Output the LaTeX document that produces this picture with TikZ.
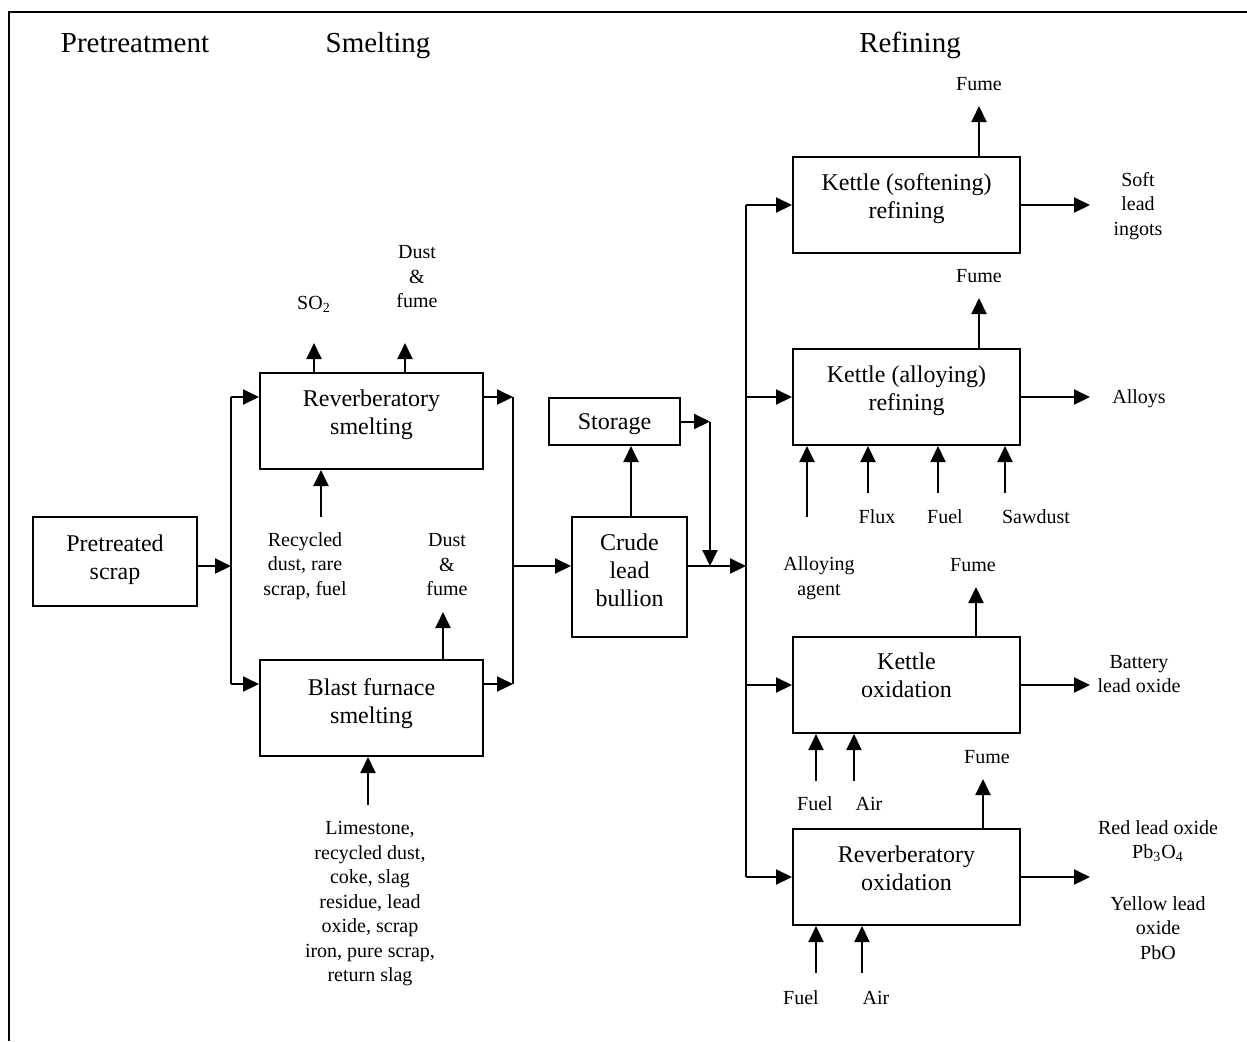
\documentclass[tikz,border=0pt]{standalone}
\usepackage{fontspec}
\setmainfont{Liberation Serif}
\usetikzlibrary{
  positioning,
  arrows.meta
}

\begin{document}
\begin{tikzpicture}[
  x=0.5pt, y=-0.5pt,
  line width=1pt,
  node distance=47pt,
  box/.style={
    draw,
    font=\fontsize{12}{14}\selectfont,
    align=center,
    inner sep=0pt,
    text depth=8.5pt,
    minimum width=113.5pt,
    minimum height=48pt
  },
  arr/.style={
    -{Triangle[length=8pt, width=7.5pt]}
  },
  lbl/.style={
    font=\fontsize{10}{12.25}\selectfont,
    align=center,
    inner sep=0pt
  },
  head/.style={
    font=\fontsize{14.5}{17}\selectfont,
    inner sep=0pt,
    anchor=base
  }
]
\useasboundingbox (0,0) rectangle (1247,1041);

% Frame
\draw (9,1041) -- (9,12) -- (307,12);
\draw[line width=0.6pt] (307,12) -- (467,12);
\draw (467,12) -- (1247,12);

% Stage headings
\node[head] (hpre)    at (135,52) {Pretreatment};
\node[head] (hsmelt)  at (378,52) {Smelting};
\node[head] (hrefine) at (910,52) {Refining};

% Pretreatment
\node[box, minimum width=82pt, minimum height=44.5pt, text depth=4.6pt]
  (scrap) at (115,561.5) {Pretreated\\scrap};

% Smelting
\node[box, minimum width=111.5pt] (revsm) at (371.5,421)
  {Reverberatory\\smelting};
\node[box, minimum width=111.5pt, text depth=7.1pt, below=94.5pt of revsm]
  (blast) {Blast furnace\\smelting};

% Bullion and storage
\node[box, minimum width=57.5pt, minimum height=60pt, text depth=6.7pt]
  (crude) at (629.5,577) {Crude\\lead\\bullion};
\node[box, minimum width=65.5pt, minimum height=23.5pt, text depth=0pt]
  (storage) at (614.5,421.5) {Storage};

% Refining
\node[box] (ksoft) at (906.5,205) {Kettle (softening)\\refining};
\node[box, below=of ksoft] (kalloy) {Kettle (alloying)\\refining};
\node[box, text depth=9.5pt, below=95pt of kalloy] (kox) {Kettle\\oxidation};
\node[box, below=of kox] (rox) {Reverberatory\\oxidation};

% Bus lines
\coordinate (busL) at (231,566);
\coordinate (busM) at (513,566);
\coordinate (busS) at (710,566);
\coordinate (busR) at (746,566);
\coordinate (revW) at ([yshift=12pt]revsm.west);
\coordinate (revE) at ([yshift=12pt]revsm.east);
\coordinate (bfW)  at ([yshift=12pt]blast.west);
\coordinate (bfE)  at ([yshift=12pt]blast.east);
\coordinate (crtop) at ([xshift=0.75pt]crude.north);
\coordinate (prodend) at (1090,0);

% Pretreatment to smelting
\draw[arr] ([yshift=-2.25pt]scrap.east) -- (busL);
\draw (busL |- revW) -- (busL |- bfW);
\draw[arr] (busL |- revW) -- (revW);
\draw[arr] (busL |- bfW) -- (bfW);

% Smelting to bullion
\draw[arr] (revE) -- (revE -| busM);
\draw[arr] (bfE) -- (bfE -| busM);
\draw (revE -| busM) -- (bfE -| busM);
\draw[arr] (busM) -- (busM -| crude.west);

% Bullion, storage and refining
\draw[arr] (crtop) -- (crtop |- storage.south);
\draw[arr] (storage.east) -- (storage.east -| busS);
\draw[arr] (storage.east -| busS) -- (busS);
\draw[arr] (busM -| crude.east) -- (busR);
\draw (busR |- ksoft.west) -- (busR |- rox.west);
\foreach \k in {ksoft, kalloy, kox, rox}
  \draw[arr] (busR |- \k.west) -- (\k.west);

% Smelting offtakes
\coordinate (so2end) at (314,343);
\coordinate (rsdend) at (405,343);
\coordinate (bfdend) at (443,612);
\draw[arr] (revsm.north -| so2end) -- (so2end);
\draw[arr] (revsm.north -| rsdend) -- (rsdend);
\draw[arr] (blast.north -| bfdend) -- (bfdend);
\node[lbl] (so2)    at (314,304) {SO\textsubscript{2}};
\node[lbl] (rsdust) at (417,277) {Dust\\\&\\fume};
\node[lbl] (bfdust) at (447,565) {Dust\\\&\\fume};

% Smelting feeds
\coordinate (rsfeed) at (321,517);
\coordinate (bffeed) at (368,805);
\draw[arr] (rsfeed) -- (rsfeed |- revsm.south);
\draw[arr] (bffeed) -- (bffeed |- blast.south);
\node[lbl] (rsfeedlbl) at (305,566) {Recycled\\dust, rare\\scrap, fuel};
\node[lbl] (bffeedlbl) at (370,904)
  {Limestone,\\recycled dust,\\coke, slag\\residue, lead\\oxide, scrap\\iron, pure scrap,\\return slag};

% Refining fumes
\coordinate (ksfend) at (979,106);
\coordinate (kafend) at (979,298);
\coordinate (kofend) at (976,587);
\coordinate (rofend) at (983,779);
\draw[arr] (ksoft.north -| ksfend) -- (ksfend);
\draw[arr] (kalloy.north -| kafend) -- (kafend);
\draw[arr] (kox.north -| kofend) -- (kofend);
\draw[arr] (rox.north -| rofend) -- (rofend);
\node[lbl] (ksfume) at (979,84)  {Fume};
\node[lbl] (kafume) at (979,276) {Fume};
\node[lbl] (kofume) at (973,565) {Fume};
\node[lbl] (rofume) at (987,757) {Fume};

% Refining products
\foreach \k in {ksoft, kalloy, kox, rox}
  \draw[arr] (\k.east) -- (\k.east -| prodend);
\node[lbl] (ksprod)  at (1138,206) {Soft\\lead\\ingots};
\node[lbl] (kaprod)  at (1139,399) {Alloys};
\node[lbl] (koprod)  at (1139,674) {Battery\\lead oxide};
\node[lbl] (roprodA) at (1158,841) {Red lead oxide\\Pb\textsubscript{3}O\textsubscript{4}};
\node[lbl] (roprodB) at (1158,928) {Yellow lead\\oxide\\PbO};

% Refining feeds
\coordinate (kaagent) at (807,517);
\coordinate (kaflux)  at (868,493);
\coordinate (kafuel)  at (938,493);
\coordinate (kasaw)   at (1005,493);
\coordinate (kofuel)  at (816,781);
\coordinate (koair)   at (854,781);
\coordinate (rofuel)  at (816,973);
\coordinate (roair)   at (862,973);
\foreach \c in {kaagent, kaflux, kafuel, kasaw}
  \draw[arr] (\c) -- (\c |- kalloy.south);
\foreach \c in {kofuel, koair}
  \draw[arr] (\c) -- (\c |- kox.south);
\foreach \c in {rofuel, roair}
  \draw[arr] (\c) -- (\c |- rox.south);
\node[lbl] (agentlbl) at (819,578) {Alloying\\agent};
\node[lbl] (fluxlbl)  at (877,517) {Flux};
\node[lbl] (kfuellbl) at (945,517) {Fuel};
\node[lbl] (sawlbl)   at (1036,517) {Sawdust};
\node[lbl] (kofuellbl) at (815,804) {Fuel};
\node[lbl] (koairlbl)  at (869,804) {Air};
\node[lbl] (rofuellbl) at (801,998) {Fuel};
\node[lbl] (roairlbl)  at (876,998) {Air};

\end{tikzpicture}
\end{document}
